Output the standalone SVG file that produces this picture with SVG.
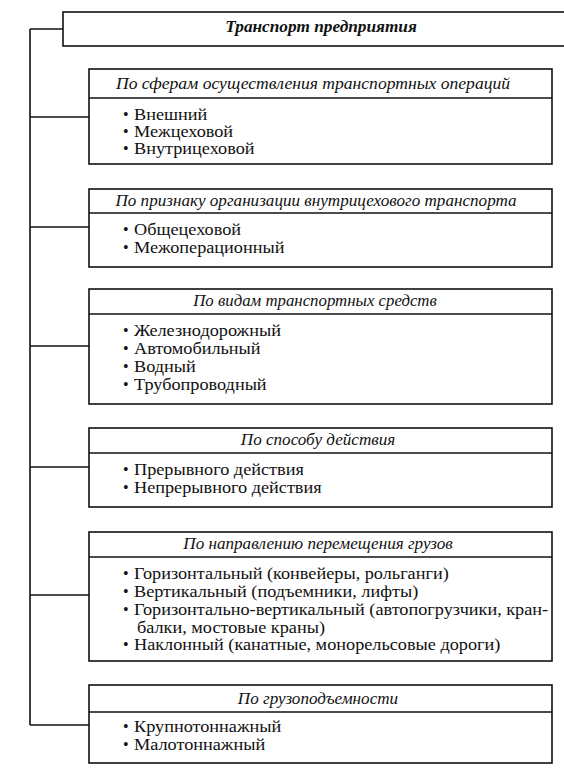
<svg xmlns="http://www.w3.org/2000/svg" width="564" height="779" viewBox="0 0 564 779">
<style>
.box{fill:#fff;stroke:#111;stroke-width:1.6}
.ln{stroke:#111;stroke-width:1.6;fill:none}
text{font-family:'Liberation Serif','Times New Roman','DejaVu Serif',serif;fill:#111}
.hd{font-style:italic;font-size:16px;text-anchor:middle}
.tt{font-style:italic;font-weight:bold;font-size:16px;text-anchor:middle}
.it{font-size:16px}
</style>
<rect width="564" height="779" fill="#fff"/>
<g id="connectors">
<path class="ln" d="M30 29V725M30 29H63M30 117H89M30 227H89M30 346H89M30 467H89M30 595H89M30 725H89"/>
</g>
<g id="root">
<rect class="box" x="63" y="12" width="510" height="34"/>
<text class="tt" transform="translate(321,32) scale(1.08,1)">Транспорт предприятия</text>
</g>
<g id="sfera">
<rect class="box" x="89" y="69" width="463" height="95"/>
<line class="ln" x1="89" y1="98" x2="552" y2="98"/>
<text class="hd" transform="translate(313,89) scale(1.1,1)">По сферам осуществления транспортных операций</text>
<text class="it" x="123" y="120">•</text><text class="it" transform="translate(134,120) scale(1.14,1)">Внешний</text>
<text class="it" x="123" y="137">•</text><text class="it" transform="translate(134,137) scale(1.14,1)">Межцеховой</text>
<text class="it" x="123" y="154">•</text><text class="it" transform="translate(134,154) scale(1.14,1)">Внутрицеховой</text>
</g>
<g id="organizacia">
<rect class="box" x="89" y="189" width="463" height="78"/>
<line class="ln" x1="89" y1="213" x2="552" y2="213"/>
<text class="hd" transform="translate(316,206) scale(1.07,1)">По признаку организации внутрицехового транспорта</text>
<text class="it" x="123" y="235">•</text><text class="it" transform="translate(134,235) scale(1.14,1)">Общецеховой</text>
<text class="it" x="123" y="253">•</text><text class="it" transform="translate(134,253) scale(1.14,1)">Межоперационный</text>
</g>
<g id="vidy">
<rect class="box" x="89" y="289" width="463" height="115"/>
<line class="ln" x1="89" y1="314" x2="552" y2="314"/>
<text class="hd" transform="translate(315,306) scale(1.05,1)">По видам транспортных средств</text>
<text class="it" x="123" y="336">•</text><text class="it" transform="translate(134,336) scale(1.14,1)">Железнодорожный</text>
<text class="it" x="123" y="354">•</text><text class="it" transform="translate(134,354) scale(1.14,1)">Автомобильный</text>
<text class="it" x="123" y="372">•</text><text class="it" transform="translate(134,372) scale(1.14,1)">Водный</text>
<text class="it" x="123" y="390">•</text><text class="it" transform="translate(134,390) scale(1.14,1)">Трубопроводный</text>
</g>
<g id="sposob">
<rect class="box" x="89" y="428" width="463" height="79"/>
<line class="ln" x1="89" y1="453" x2="552" y2="453"/>
<text class="hd" transform="translate(318,445) scale(1.07,1)">По способу действия</text>
<text class="it" x="123" y="475">•</text><text class="it" transform="translate(134,475) scale(1.14,1)">Прерывного действия</text>
<text class="it" x="123" y="493">•</text><text class="it" transform="translate(134,493) scale(1.14,1)">Непрерывного действия</text>
</g>
<g id="napravlenie">
<rect class="box" x="89" y="532" width="463" height="129"/>
<line class="ln" x1="89" y1="557" x2="552" y2="557"/>
<text class="hd" transform="translate(318,549) scale(1.07,1)">По направлению перемещения грузов</text>
<text class="it" x="123" y="579">•</text><text class="it" transform="translate(134,579) scale(1.14,1)">Горизонтальный (конвейеры, рольганги)</text>
<text class="it" x="123" y="597">•</text><text class="it" transform="translate(134,597) scale(1.14,1)">Вертикальный (подъемники, лифты)</text>
<text class="it" x="123" y="615">•</text><text class="it" transform="translate(134,615) scale(1.14,1)">Горизонтально-вертикальный (автопогрузчики, кран-</text>
<text class="it" transform="translate(137,633) scale(1.14,1)">балки, мостовые краны)</text>
<text class="it" x="123" y="650">•</text><text class="it" transform="translate(134,650) scale(1.14,1)">Наклонный (канатные, монорельсовые дороги)</text>
</g>
<g id="gruz">
<rect class="box" x="89" y="685" width="463" height="78"/>
<line class="ln" x1="89" y1="712" x2="552" y2="712"/>
<text class="hd" transform="translate(318,704) scale(1.07,1)">По грузоподъемности</text>
<text class="it" x="123" y="732">•</text><text class="it" transform="translate(134,732) scale(1.14,1)">Крупнотоннажный</text>
<text class="it" x="123" y="750">•</text><text class="it" transform="translate(134,750) scale(1.14,1)">Малотоннажный</text>
</g>
</svg>
